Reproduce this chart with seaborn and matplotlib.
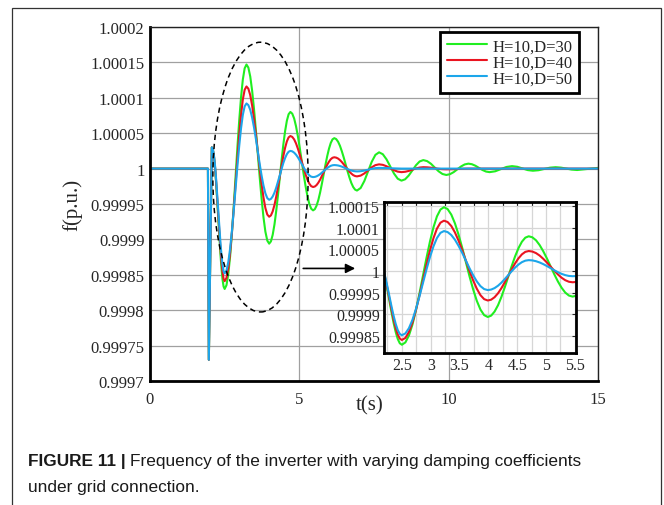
import numpy as np
import pandas as pd
import seaborn as sns
import matplotlib.pyplot as plt
from matplotlib.patches import Ellipse, Rectangle

# time axis (s), shared by the three cases (one row per half swing)
t_s = [0.0, 1.94, 1.97,
       2.07, 2.106, 2.142, 2.178, 2.213, 2.249, 2.285, 2.321, 2.357, 2.393, 2.428, 2.464,
       2.50, 2.561, 2.622, 2.683, 2.743, 2.804, 2.865, 2.926, 2.987, 3.048, 3.108, 3.169,
       3.23, 3.293, 3.357, 3.42, 3.483, 3.547, 3.61, 3.673, 3.737, 3.80, 3.863, 3.927,
       3.99, 4.049, 4.108, 4.168, 4.227, 4.286, 4.345, 4.404, 4.463, 4.523, 4.582, 4.641,
       4.70, 4.763, 4.827, 4.89, 4.953, 5.017, 5.08, 5.143, 5.207, 5.27, 5.333, 5.397,
       5.46, 5.519, 5.578, 5.638, 5.697, 5.756, 5.815, 5.874, 5.933, 5.993, 6.052, 6.111,
       6.17, 6.233, 6.297, 6.36, 6.423, 6.487, 6.55, 6.613, 6.677, 6.74, 6.803, 6.867,
       6.93, 7.053, 7.177, 7.30, 7.423, 7.547,
       7.67, 7.795, 7.92, 8.045, 8.17, 8.295,
       8.42, 8.542, 8.663, 8.785, 8.907, 9.028,
       9.15, 9.278, 9.407, 9.535, 9.663, 9.792,
       9.92, 10.043, 10.167, 10.29, 10.413, 10.537,
       10.66, 10.778, 10.897, 11.015, 11.133, 11.252,
       11.37, 11.558, 11.745, 11.933,
       12.12, 12.295, 12.47, 12.645,
       12.82, 13.01, 13.2, 13.39,
       13.58, 13.76, 13.94, 14.12,
       14.3, 15.0]

# frequency deviation from 1 p.u., in units of 1e-6 p.u.
dev_d30 = [0, 0, -270,
           30, 26.6, 16.6, 0.7, -20, -44.1, -70, -95.9, -120, -140.7, -156.6, -166.6,
           -170, -164.6, -148.8, -123.6, -90.8, -52.6, -11.5, 29.6, 67.8, 100.6, 125.8, 141.6,
           147, 142.7, 130, 109.9, 83.8, 53.3, 20.5, -12.3, -42.8, -68.9, -89, -101.7,
           -106, -102.8, -93.5, -78.8, -59.5, -37.1, -13, 11.1, 33.5, 52.8, 67.5, 76.8,
           80, 77.6, 70.7, 59.6, 45.3, 28.5, 10.5, -7.5, -24.3, -38.6, -49.7, -56.6,
           -59, -57.3, -52.2, -44.1, -33.5, -21.2, -8, 5.2, 17.5, 28.1, 36.2, 41.3,
           43, 41.7, 38, 32.2, 24.5, 15.6, 6, -3.6, -12.5, -20.2, -26, -29.7,
           -31, -27.4, -17.5, -4, 9.5, 19.4,
           23, 20.3, 13, 3, -7, -14.3,
           -17, -15.1, -9.8, -2.5, 4.8, 10.1,
           12, 10.6, 6.8, 1.5, -3.8, -7.6,
           -9, -7.9, -5, -1, 3, 5.9,
           7, 6.2, 4, 1, -2, -4.2,
           -5, -3.8, -0.8, 2.3,
           3.5, 2.6, 0.3, -2.1,
           -3, -2.3, -0.5, 1.3,
           2, 1.4, 0, -1.4,
           -2, 1]
dev_d40 = [0, 0, -270,
           30, 26.8, 17.3, 2.3, -17.3, -40.0, -64.5, -89.0, -111.8, -131.3, -146.3, -155.8,
           -159, -154.3, -140.6, -118.7, -90.3, -57.1, -21.5, 14.1, 47.3, 75.7, 97.6, 111.3,
           116, 112.9, 103.7, 89, 70, 47.8, 24, 0.2, -22, -41, -55.7, -64.9,
           -68, -66.1, -60.4, -51.3, -39.5, -25.8, -11, 3.8, 17.5, 29.3, 38.4, 44.1,
           46, 44.8, 41.2, 35.5, 28, 19.3, 10, 0.7, -8, -15.5, -21.2, -24.8,
           -26, -25.3, -23.2, -19.8, -15.5, -10.4, -5, 0.4, 5.5, 9.8, 13.2, 15.3,
           16, 15.5, 14.2, 12, 9.3, 6, 2.5, -1, -4.3, -7, -9.2, -10.5,
           -11, -9.9, -6.8, -2.5, 1.8, 4.9,
           6, 5.3, 3.3, 0.5, -2.3, -4.3,
           -5, -4.5, -3.3, -1.5, 0.3, 1.5,
           2, 1.8, 1.3, 0.5, -0.3, -0.8,
           -1, -0.9, -0.8, -0.5, -0.3, -0.1,
           0, 0, 0, 0, 0, 0,
           0, 0, 0, 0,
           0, 0, 0, 0,
           0, 0, 0, 0,
           0, 0, 0, 0,
           0, 0]
dev_d50 = [0, 0, -270,
           30, 27.0, 18.1, 3.9, -14.5, -36.0, -59, -82.1, -103.5, -121.9, -136.1, -145.0,
           -148, -143.9, -131.9, -112.8, -88, -59.1, -28, 3.1, 32, 56.8, 75.9, 87.9,
           92, 89.7, 82.9, 72.1, 58, 41.6, 24, 6.4, -10, -24.1, -34.9, -41.7,
           -44, -42.8, -39.4, -33.9, -26.8, -18.4, -9.5, -0.6, 7.8, 14.9, 20.4, 23.8,
           25, 24.4, 22.5, 19.6, 15.8, 11.3, 6.5, 1.7, -2.8, -6.6, -9.5, -11.4,
           -12, -11.7, -10.9, -9.5, -7.8, -5.7, -3.5, -1.3, 0.8, 2.5, 3.9, 4.7,
           5, 4.8, 4.4, 3.7, 2.8, 1.7, 0.5, -0.7, -1.8, -2.7, -3.4, -3.8,
           -4, -3.7, -2.8, -1.5, -0.3, 0.7,
           1, 0.9, 0.8, 0.5, 0.3, 0.1,
           0, 0, 0, 0, 0, 0,
           0, 0, 0, 0, 0, 0,
           0, 0, 0, 0, 0, 0,
           0, 0, 0, 0, 0, 0,
           0, 0, 0, 0,
           0, 0, 0, 0,
           0, 0, 0, 0,
           0, 0, 0, 0,
           0, 0]

case_labels = ['H=10,D=30', 'H=10,D=40', 'H=10,D=50']
case_colors = ['#20ee20', '#ea1420', '#1ca6ea']

main_yticks = [0.9997, 0.99975, 0.9998, 0.99985, 0.9999, 0.99995, 1.0,
               1.00005, 1.0001, 1.00015, 1.0002]
main_ylabels = ['0.9997', '0.99975', '0.9998', '0.99985', '0.9999', '0.99995', '1',
                '1.00005', '1.0001', '1.00015', '1.0002']
main_xticks = [0, 5, 10, 15]
inset_yticks = [0.99985, 0.9999, 0.99995, 1.0, 1.00005, 1.0001, 1.00015]
inset_ylabels = ['0.99985', '0.9999', '0.99995', '1', '1.00005', '1.0001', '1.00015']
inset_xticks = [2.5, 3, 3.5, 4, 4.5, 5, 5.5]
inset_xlabels = ['2.5', '3', '3.5', '4', '4.5', '5', '5.5']
inset_xminor = [2.25, 2.75, 3.25, 3.75, 4.25, 4.75, 5.25]

# dashed ellipse around the first swings and the arrow to the zoom
ell_center = (3.70, 0.999988)
ell_w, ell_h = 3.19, 0.000381
arrow_from = (5.13, 0.999859)
arrow_to = (6.87, 0.999859)

assert len(t_s) == len(dev_d30) == len(dev_d40) == len(dev_d50)

frames = []
for dev, lab in zip([dev_d30, dev_d40, dev_d50], case_labels):
    frames.append(pd.DataFrame({'t': t_s, 'f': 1 + np.array(dev) * 1e-6, 'case': lab}))
df = pd.concat(frames, ignore_index=True)

sns.set_style('white')
plt.rcParams['font.family'] = ['Liberation Serif', 'DejaVu Serif']

fig = plt.figure(figsize=(6.64, 5.06), dpi=100)
ax = fig.add_axes([150 / 664, 1 - 382 / 506, 448 / 664, 354 / 506])
sns.lineplot(data=df, x='t', y='f', hue='case', palette=case_colors,
             estimator=None, sort=False, lw=1.5, ax=ax)

ax.set_xlim(0, 15)
ax.set_ylim(0.9997, 1.0002)
ax.set_xticks(main_xticks, [str(v) for v in main_xticks])
ax.set_yticks(main_yticks, main_ylabels)
ax.grid(True, color='#a0a0a0', lw=0.9)
ax.set_axisbelow(True)
ax.tick_params(axis='y', direction='out', length=3, color='#909090', pad=1, labelsize=12)
ax.tick_params(axis='x', length=0, pad=7, labelsize=12)
for side in ['left', 'bottom']:
    ax.spines[side].set_linewidth(2)
    ax.spines[side].set_color('black')
for side in ['top', 'right']:
    ax.spines[side].set_linewidth(1)
    ax.spines[side].set_color('#222222')
ax.set_xlabel('t(s)', fontsize=15)
ax.xaxis.set_label_coords(0.49, -0.04)
ax.set_ylabel('f(p.u.)', fontsize=15, labelpad=6)

handles, lbls = ax.get_legend_handles_labels()
leg = ax.legend(handles, lbls, loc='upper right', bbox_to_anchor=(0.958, 0.987),
                frameon=True, fancybox=False, edgecolor='black', framealpha=1,
                fontsize=12, handlelength=2.45, handletextpad=0.3,
                labelspacing=0.0, borderpad=0.4, borderaxespad=0)
leg.get_frame().set_linewidth(2)
for ln in leg.get_lines():
    ln.set_linewidth(1.5)

ax.add_patch(Ellipse(ell_center, ell_w, ell_h, fill=False, ec='black',
                     lw=1.1, ls=(0, (3.5, 2.5)), zorder=5))
ax.annotate('', xy=arrow_to, xytext=arrow_from,
            arrowprops=dict(arrowstyle='-|>', color='black', lw=1.2,
                            mutation_scale=14, shrinkA=0, shrinkB=0))

# zoomed inset
axi = fig.add_axes([384 / 664, 1 - 354 / 506, 192 / 664, 151 / 506])
sns.lineplot(data=df, x='t', y='f', hue='case', palette=case_colors,
             estimator=None, sort=False, lw=1.5, ax=axi, legend=False)
axi.set_xlim(2.19, 5.52)
axi.set_ylim(0.999811, 1.000159)
axi.set_xticks(inset_xticks, inset_xlabels)
axi.set_xticks(inset_xminor, minor=True)
axi.set_yticks(inset_yticks, inset_ylabels)
axi.grid(True, which='both', axis='x', color='#d6d6d6', lw=0.9)
axi.grid(True, which='major', axis='y', color='#d6d6d6', lw=0.9)
axi.set_axisbelow(True)
axi.tick_params(which='both', direction='in', length=3, width=0.8,
                top=True, right=True, labelsize=11.5, pad=3)
axi.set_xlabel('')
axi.set_ylabel('')
for side in axi.spines:
    axi.spines[side].set_linewidth(2)
    axi.spines[side].set_color('black')

# caption and frame
cap_font = ['Liberation Sans', 'DejaVu Sans']
bold = fig.text(28 / 664, 1 - 462 / 506, 'FIGURE 11 |', fontsize=12.4,
                fontweight='bold', family=cap_font, va='center', color='#1a1a1a')
fig.canvas.draw()
bb = bold.get_window_extent()
fig.text((bb.x1 + 4) / 664, 1 - 462 / 506,
         'Frequency of the inverter with varying damping coefficients',
         fontsize=12.4, family=cap_font, va='center', color='#1a1a1a')
fig.text(28 / 664, 1 - 488 / 506, 'under grid connection.', fontsize=12.4,
         family=cap_font, va='center', color='#1a1a1a')
fig.add_artist(Rectangle((12 / 664, -0.1), 649 / 664, 0.1 + 1 - 9 / 506,
                         transform=fig.transFigure, fill=False, ec='#333333', lw=0.9))

fig.savefig('out.png', dpi=100)
